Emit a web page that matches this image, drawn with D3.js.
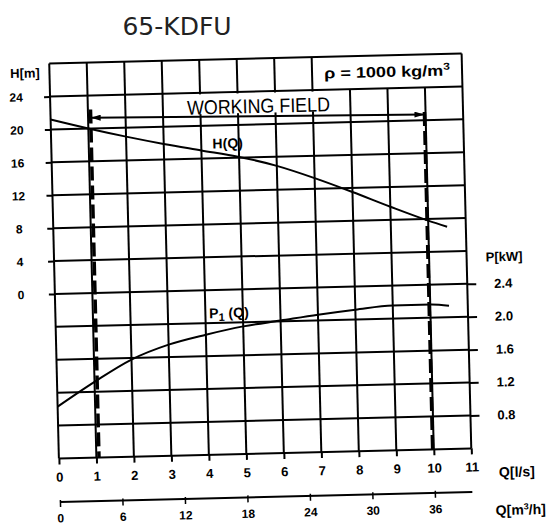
<!DOCTYPE html>
<html>
<head>
<meta charset="utf-8">
<script src="https://cdnjs.cloudflare.com/ajax/libs/d3/7.8.5/d3.min.js"></script>
<style>
  body { margin: 0; background: #fff; }
  .lbl { font-family: 'Liberation Sans', Arial, sans-serif; font-weight: bold; fill: #000; }
</style>
</head>
<body>
<svg id="chart" width="552" height="531"></svg>
<script>
// axis ticks
var qTicks = [0, 1, 2, 3, 4, 5, 6, 7, 8, 9, 10, 11];      // l/s
var m3hTicks = [0, 6, 12, 18, 24, 30, 36];                // m3/h
var hTicks = [24, 20, 16, 12, 8, 4, 0];                   // m
var pTicks = [2.4, 2.0, 1.6, 1.2, 0.8];                   // kW

// H(Q) curve
var headQ = [0, 1, 2, 3, 4, 5, 6, 7, 8, 9, 10, 10.5];
var headH = [21.2, 20.0, 18.9, 17.9, 17.0, 16.1, 14.9, 13.3, 11.5, 9.6, 7.8, 7.0];

// P1(Q) curve
var powQ = [0, 1, 2, 3, 4, 5, 6, 7, 8, 9, 10, 10.5];
var powP = [1.03, 1.32, 1.58, 1.75, 1.86, 1.95, 2.01, 2.07, 2.12, 2.16, 2.16, 2.14];

// working field limits
var workQ = [1.07, 9.97];
var workTopH = [22.3, 21.0];
var arrowH = [21.3, 20.7];

var svg = d3.select('#chart');

// title (not part of the scanned sheet)
svg.append('text')
  .attr('x', 177).attr('y', 35)
  .attr('text-anchor', 'middle')
  .style('font-family', "'DejaVu Sans', Verdana, sans-serif")
  .style('font-size', '25px')
  .style('fill', '#222')
  .text('65-KDFU');

// the sheet is scanned a little crooked
var g = svg.append('g').attr('transform', 'rotate(-1.4,260.25,256)');

var L = 54, R = 466.5, T = 58.5, B = 453.5;
var x = d3.scaleLinear().domain([0, 11]).range([L, R]);
var y = d3.scaleLinear().domain([-20, 28]).range([B, T]);
var yP = d3.scaleLinear().domain([0.4, 5.2]).range([B, T]);
var xM = d3.scaleLinear().domain([0, 39.6]).range([L, R]);

// grid
var rows = d3.range(-20, 29, 4);
g.append('g').selectAll('line').data(rows).join('line')
  .attr('x1', L).attr('x2', R)
  .attr('y1', d => y(d)).attr('y2', d => y(d))
  .attr('stroke', '#000').attr('stroke-width', 2);

g.append('g').selectAll('line').data(x.ticks(11)).join('line')
  .attr('x1', d => x(d)).attr('x2', d => x(d))
  .attr('y1', d => (d >= 8 && d <= 10) ? y(24) : T)
  .attr('y2', B)
  .attr('stroke', '#000').attr('stroke-width', 2);

// white box under "WORKING FIELD"
g.append('rect')
  .attr('x', x(3) + 1.5).attr('width', x(8) - x(3) - 3)
  .attr('y', y(24) + 1.5).attr('height', y(21.4) - y(24) - 1.5)
  .attr('fill', '#fff');

g.append('text')
  .attr('x', x(5.55)).attr('y', y(20.9) - 4)
  .attr('text-anchor', 'middle')
  .attr('textLength', 143).attr('lengthAdjust', 'spacingAndGlyphs')
  .style('font-family', "'Liberation Sans', Arial, sans-serif")
  .style('font-size', '20px')
  .text('WORKING FIELD');

// density box
g.append('text').attr('class', 'lbl')
  .attr('x', (x(7) + R) / 2).attr('y', y(26)).attr('dy', '0.35em')
  .attr('text-anchor', 'middle')
  .attr('textLength', 126).attr('lengthAdjust', 'spacingAndGlyphs')
  .style('font-size', '15px')
  .html('ρ = 1000 kg/m<tspan dy="-6" style="font-size:10px">3</tspan>');

// axes
function styleAxis(sel) {
  sel.select('.domain').remove();
  sel.selectAll('.tick line').attr('stroke', '#000').attr('stroke-width', 2);
  sel.selectAll('.tick text').attr('class', 'lbl').attr('fill', '#000');
}

var axH = g.append('g').attr('transform', 'translate(' + L + ',0)')
  .call(d3.axisLeft(y).tickValues(hTicks).tickSize(6).tickFormat(d3.format('d')))
  .call(styleAxis);
axH.selectAll('.tick text').attr('x', -34).attr('text-anchor', 'middle').style('font-size', '12px');

var axP = g.append('g').attr('transform', 'translate(' + R + ',0)')
  .call(d3.axisRight(yP).tickValues(pTicks).tickSize(9).tickFormat(d3.format('.1f')))
  .call(styleAxis);
axP.selectAll('.tick text').attr('x', 36).attr('text-anchor', 'middle').style('font-size', '13px');

var axQ = g.append('g').attr('transform', 'translate(0,' + B + ')')
  .call(d3.axisBottom(x).tickValues(qTicks).tickSize(6).tickFormat(d3.format('d')))
  .call(styleAxis);
axQ.selectAll('.tick text').attr('y', 14).style('font-size', '13px');

var axM = g.append('g').attr('transform', 'translate(0,497)')
  .call(d3.axisBottom(xM).tickValues(m3hTicks).tickSize(5).tickSizeOuter(0).tickFormat(d3.format('d')));
axM.select('.domain').attr('stroke', '#000').attr('stroke-width', 2).attr('d', 'M' + L + ',0H' + R);
axM.selectAll('.tick line').attr('stroke', '#000').attr('stroke-width', 1.5).attr('y1', -2);
axM.selectAll('.tick text').attr('class', 'lbl').attr('y', 12).style('font-size', '12px');

// axis titles
g.append('text').attr('class', 'lbl').attr('x', L - 24.5).attr('y', T + 9).attr('dy', '0.35em')
  .attr('text-anchor', 'middle').style('font-size', '13px').text('H[m]');
g.append('text').attr('class', 'lbl').attr('x', R + 37.5).attr('y', y(0) - 26.5).attr('dy', '0.35em')
  .attr('text-anchor', 'middle').style('font-size', '13px').text('P[kW]');
g.append('text').attr('class', 'lbl').attr('x', R + 45).attr('y', B + 24.5).attr('dy', '0.35em')
  .attr('text-anchor', 'middle').style('font-size', '14px').text('Q[l/s]');
g.append('text').attr('class', 'lbl').attr('x', R + 48).attr('y', 516).attr('dy', '0.35em')
  .attr('text-anchor', 'middle').style('font-size', '14px')
  .html('Q[m<tspan dy="-5" style="font-size:9px">3</tspan><tspan dy="5">/h]</tspan>');

// working field
g.append('g').selectAll('line').data(workQ).join('line')
  .attr('x1', d => x(d)).attr('x2', d => x(d))
  .attr('y1', (d, i) => y(workTopH[i])).attr('y2', B)
  .attr('stroke', '#000').attr('stroke-width', 3.5)
  .attr('stroke-dasharray', '14,5');

var defs = svg.append('defs');
defs.append('marker').attr('id', 'arr').attr('viewBox', '0 0 10 6')
  .attr('refX', 10).attr('refY', 3).attr('markerWidth', 10).attr('markerHeight', 6)
  .attr('markerUnits', 'userSpaceOnUse').attr('orient', 'auto-start-reverse')
  .append('path').attr('d', 'M0,0L10,3L0,6Z').attr('fill', '#000');

g.append('line')
  .attr('x1', x(workQ[0])).attr('x2', x(workQ[1]))
  .attr('y1', y(arrowH[0])).attr('y2', y(arrowH[1]))
  .attr('stroke', '#000').attr('stroke-width', 2)
  .attr('marker-start', 'url(#arr)').attr('marker-end', 'url(#arr)');

// curves
var headLine = d3.line().x(d => x(d[0])).y(d => y(d[1])).curve(d3.curveMonotoneX);
g.append('path').datum(d3.zip(headQ, headH))
  .attr('d', headLine).attr('fill', 'none').attr('stroke', '#000').attr('stroke-width', 2);

var powLine = d3.line().x(d => x(d[0])).y(d => yP(d[1])).curve(d3.curveMonotoneX);
g.append('path').datum(d3.zip(powQ, powP))
  .attr('d', powLine).attr('fill', 'none').attr('stroke', '#000').attr('stroke-width', 2);

// curve labels
g.append('text').attr('class', 'lbl').attr('x', x(4.3)).attr('y', y(17.2))
  .style('font-size', '14px').text('H(Q)');
g.append('text').attr('class', 'lbl').attr('x', x(4.1)).attr('y', yP(2.06))
  .style('font-size', '14px')
  .html('P<tspan dy="3" style="font-size:11px">1</tspan><tspan dy="-3"> (Q)</tspan>');
</script>
</body>
</html>
